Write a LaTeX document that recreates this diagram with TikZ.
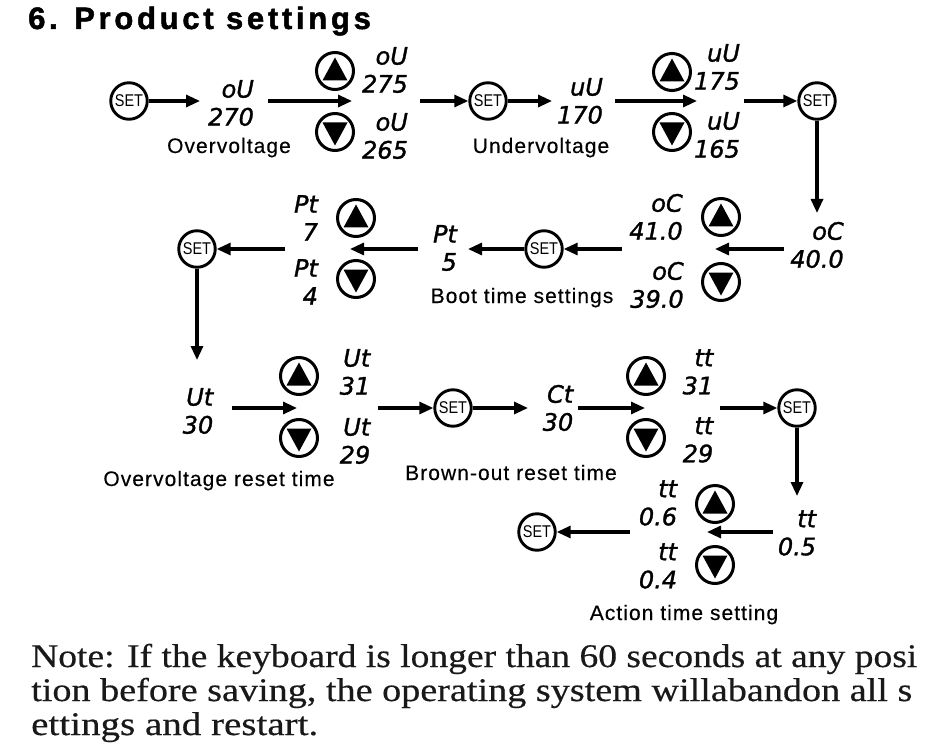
\documentclass[tikz,border=0pt]{standalone}
\usepackage{fontspec}
\usepackage{graphicx}
\setmainfont{Liberation Sans}
\newfontfamily\segfont{DejaVu Sans}[FakeBold=1.3]
\newfontfamily\notefont{Liberation Serif}[FakeBold=0.4]
\newfontfamily\lblfont{Liberation Sans}[LetterSpace=5,FakeBold=0.3]
\newfontfamily\titlefont{Liberation Sans Bold}[LetterSpace=12,FakeBold=1.6]
\usetikzlibrary{arrows.meta}
\newcommand{\SETtxt}{\scalebox{0.85}[1]{SET}}
\begin{document}
\begin{tikzpicture}[x=1pt,y=-1pt,
  arr/.style={line width=3.1pt,-{Triangle[length=14pt,width=12pt]}},
  setbtn/.style={circle,draw,line width=2.9pt,minimum size=36.5pt,inner sep=0pt,
    font=\fontsize{17}{17}\selectfont},
  upbtn/.style={circle,draw,line width=3pt,minimum size=37pt,inner sep=0pt,
    path picture={\fill ([yshift=13.5pt]path picture bounding box.center) -- ++(-12.5pt,-23pt) -- ++(25pt,0pt) -- cycle;}},
  dnbtn/.style={circle,draw,line width=3pt,minimum size=37pt,inner sep=0pt,
    path picture={\fill ([yshift=-13.5pt]path picture bounding box.center) -- ++(-12.5pt,23pt) -- ++(25pt,0pt) -- cycle;}},
  disp/.style={font=\segfont\itshape\fontsize{24}{28}\selectfont,align=right,inner sep=0pt},
  lbl/.style={font=\lblfont\fontsize{21}{24}\selectfont,inner sep=0pt,anchor=base},
  notetxt/.style={font=\notefont\fontsize{33}{34}\selectfont,text=black!90,inner sep=0pt,anchor=base west}
]
\fill[white] (0,0) rectangle (941,751);
\useasboundingbox (0,0) rectangle (941,751);

% title
\node[inner sep=0pt,anchor=base west,font=\titlefont\fontsize{31}{31}\selectfont] (title) at (28,29) {6. Product settings};

% ---------- row 1 ----------
\node[setbtn] (set1) at (129,101) {\SETtxt};
\node[disp] (d270) at (231,103) {oU\\270};
\node[lbl] (l1) at (229,153) {Overvoltage};
\node[upbtn] (up1) at (335,71) {};
\node[dnbtn] (dn1) at (335,132) {};
\node[disp] (d275) at (385,70) {oU\\275};
\node[disp] (d265) at (385,136) {oU\\265};
\node[setbtn] (set2) at (488,101) {\SETtxt};
\node[disp] (d170) at (580,101) {uU\\170};
\node[lbl] (l2) at (541,153) {Undervoltage};
\node[upbtn] (up2) at (672,72) {};
\node[dnbtn] (dn2) at (672,132) {};
\node[disp] (d175) at (717,67) {uU\\175};
\node[disp] (d165) at (717,135) {uU\\165};
\node[setbtn] (set3) at (817,101) {\SETtxt};

% ---------- row 2 ----------
\node[disp] (d40) at (817,245) {oC\\40.0};
\node[upbtn] (up3) at (721,217) {};
\node[dnbtn] (dn3) at (721,282) {};
\node[disp] (d41) at (656,217) {oC\\41.0};
\node[disp] (d39) at (657,285) {oC\\39.0};
\node[setbtn] (set4) at (544,249) {\SETtxt};
\node[disp] (d5) at (445,248) {Pt\\5};
\node[lbl] (l3) at (522,303) {Boot time settings};
\node[upbtn] (up4) at (356,218) {};
\node[dnbtn] (dn4) at (356,279) {};
\node[disp] (d7) at (306,218) {Pt\\7};
\node[disp] (d4) at (306,282) {Pt\\4};
\node[setbtn] (set5) at (197,249) {\SETtxt};

% ---------- row 3 ----------
\node[disp] (d30a) at (198,411) {Ut\\30};
\node[upbtn] (up5) at (299,376) {};
\node[dnbtn] (dn5) at (299,438) {};
\node[disp] (d31a) at (355,372) {Ut\\31};
\node[disp] (d29a) at (355,441) {Ut\\29};
\node[lbl] (l4) at (219,486) {Overvoltage reset time};
\node[setbtn] (set6) at (453,408) {\SETtxt};
\node[disp] (dct) at (558,408) {Ct\\30};
\node[lbl] (l5) at (511,480) {Brown-out reset time};
\node[upbtn] (up6) at (646,376) {};
\node[dnbtn] (dn6) at (646,438) {};
\node[disp] (d31b) at (698,372) {tt\\31};
\node[disp] (d29b) at (698,440) {tt\\29};
\node[setbtn] (set7) at (797,408) {\SETtxt};

% ---------- row 4 ----------
\node[disp] (d05) at (797,533) {tt\\0.5};
\node[upbtn] (up7) at (715,504) {};
\node[dnbtn] (dn7) at (715,565) {};
\node[disp] (d06) at (658,503) {tt\\0.6};
\node[disp] (d04) at (658,566) {tt\\0.4};
\node[setbtn] (set8) at (537,532) {\SETtxt};
\node[lbl] (l6) at (684,620) {Action time setting};

% ---------- free arrow ends ----------
\coordinate (c1) at (200,101);
\coordinate (c2a) at (268,101);
\coordinate (c2b) at (352,101);
\coordinate (c3) at (420,101);
\coordinate (c4) at (552,101);
\coordinate (c5a) at (615,101);
\coordinate (c5b) at (697,101);
\coordinate (c6) at (744,101);
\coordinate (c7) at (817,213);
\coordinate (c8a) at (784,249);
\coordinate (c8b) at (715,249);
\coordinate (c9) at (622,249);
\coordinate (c10) at (468,249);
\coordinate (c11a) at (418,249);
\coordinate (c11b) at (350,249);
\coordinate (c12) at (285,249);
\coordinate (c13) at (197,360);
\coordinate (c14a) at (232,408);
\coordinate (c14b) at (297,408);
\coordinate (c15) at (378,408);
\coordinate (c16) at (528,408);
\coordinate (c17a) at (578,408);
\coordinate (c17b) at (645,408);
\coordinate (c18) at (720,408);
\coordinate (c19) at (797,496);
\coordinate (c20a) at (773,532);
\coordinate (c20b) at (707,532);
\coordinate (c21) at (630,532);

% ---------- arrows ----------
\draw[arr] (set1.east) -- (c1);
\draw[arr] (c2a) -- (c2b);
\draw[arr] (c3) -- (set2.west);
\draw[arr] (set2.east) -- (c4);
\draw[arr] (c5a) -- (c5b);
\draw[arr] (c6) -- (set3.west);
\draw[arr] (set3.south) -- (c7);
\draw[arr] (c8a) -- (c8b);
\draw[arr] (c9) -- (set4.east);
\draw[arr] (set4.west) -- (c10);
\draw[arr] (c11a) -- (c11b);
\draw[arr] (c12) -- (set5.east);
\draw[arr] (set5.south) -- (c13);
\draw[arr] (c14a) -- (c14b);
\draw[arr] (c15) -- (set6.west);
\draw[arr] (set6.east) -- (c16);
\draw[arr] (c17a) -- (c17b);
\draw[arr] (c18) -- (set7.west);
\draw[arr] (set7.south) -- (c19);
\draw[arr] (c20a) -- (c20b);
\draw[arr] (c21) -- (set8.east);

% ---------- note ----------
\node[notetxt] (n1) at (31,667) {\resizebox{886pt}{\height}{Note: If the keyboard is longer than 60 seconds at any posi}};
\node[notetxt] (n2) at (31,701) {\resizebox{881pt}{\height}{tion before saving, the operating system willabandon all s}};
\node[notetxt] (n3) at (31,735) {\resizebox{287pt}{\height}{ettings and restart.}};
\end{tikzpicture}
\end{document}
